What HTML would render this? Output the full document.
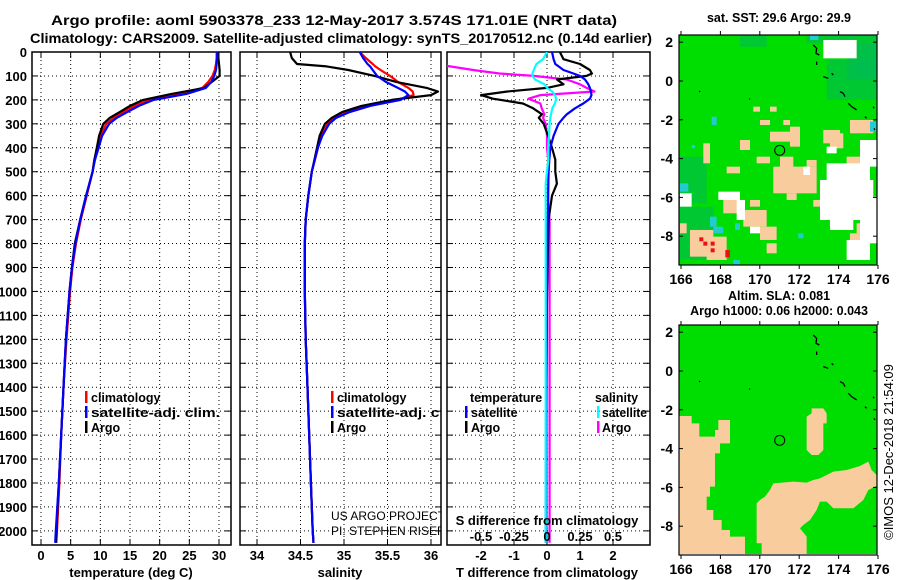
<!DOCTYPE html>
<html><head><meta charset="utf-8"><style>
body{margin:0;background:#fff;}
svg{display:block;font-family:"Liberation Sans",sans-serif;}
.b{font-weight:bold;}
</style></head><body>
<svg id="chart" width="900" height="580" viewBox="0 0 900 580" xmlns="http://www.w3.org/2000/svg">
<g id="titles">
<text x="334" y="25" text-anchor="middle" font-size="14" class="b" textLength="566" lengthAdjust="spacingAndGlyphs">Argo profile: aoml 5903378_233 12-May-2017 3.574S 171.01E (NRT data)</text>
<text x="341" y="43" text-anchor="middle" font-size="14" class="b" textLength="622" lengthAdjust="spacingAndGlyphs">Climatology: CARS2009. Satellite-adjusted climatology: synTS_20170512.nc (0.14d earlier)</text>
</g>
<g id="panels"></g>
<g id="maps"></g>
<text transform="translate(893,452) rotate(-90)" text-anchor="middle" font-size="13">©IMOS 12-Dec-2018 21:54:09</text>
</svg>
<script>
// ---------------- data ----------------
const tDepths = [0,25,50,75,100,125,150,175,200,225,250,275,300,350,400,450,500,600,700,800,900,1000,1200,1400,1600,1800,2000,2050];
const tArgo = [29.8,29.9,30.0,30.1,30.1,28.8,27.5,22.0,17.2,15.0,13.3,11.6,10.5,9.8,9.4,9.0,8.7,7.6,6.6,5.7,5.2,4.8,4.2,3.8,3.4,3.0,2.6,2.5];
const tClim = [29.6,29.6,29.5,29.3,28.9,28.2,27.2,23.5,18.2,15.8,13.9,12.2,11.0,10.0,9.5,9.0,8.7,7.7,6.7,5.9,5.3,4.9,4.3,3.8,3.4,3.1,2.7,2.6];
const tSat = [29.7,29.7,29.6,29.5,29.2,28.7,27.8,24.5,19.0,16.5,14.6,12.8,11.5,10.3,9.7,9.1,8.7,7.6,6.6,5.8,5.2,4.8,4.2,3.8,3.4,3.0,2.5,2.4];
const sDepths = [0,25,50,60,75,100,125,150,165,180,200,225,250,275,300,350,400,500,600,700,800,1000,1200,1400,1600,1800,2000,2050];
const sArgo = [34.38,34.40,34.46,34.80,35.05,35.35,35.60,35.95,36.08,36.0,35.55,35.2,34.98,34.86,34.78,34.72,34.69,34.63,34.59,34.56,34.55,34.55,34.56,34.58,34.60,34.62,34.64,34.65];
const sClim = [35.18,35.25,35.33,35.36,35.42,35.53,35.62,35.74,35.79,35.80,35.6,35.25,35.03,34.88,34.81,34.74,34.70,34.63,34.59,34.56,34.55,34.55,34.56,34.58,34.60,34.62,34.64,34.65];
const sSat = [35.18,35.22,35.27,35.30,35.33,35.38,35.48,35.62,35.70,35.74,35.65,35.30,35.07,34.91,34.83,34.75,34.70,34.63,34.59,34.56,34.55,34.55,34.56,34.58,34.60,34.62,34.64,34.65];
const dDepths = [0,30,50,75,90,100,115,135,150,165,180,195,215,235,260,275,300,350,400,450,500,550,600,650,700,1000,1500,2050];
const dTArgo = [0.39,0.5,1.0,1.3,1.36,1.2,0.3,0.5,0.0,-1.2,-2.0,-1.64,-0.73,-0.42,-0.15,-0.25,-0.1,0.03,0.15,0.25,0.25,0.3,0.15,0.1,0.05,0.0,-0.02,-0.02];
const dTSat = [0.15,0.2,0.25,0.5,0.8,1.0,1.15,1.25,1.3,1.33,1.35,1.3,1.1,0.85,0.6,0.5,0.35,0.2,0.1,0.07,0.05,0.04,0.03,0.03,0.02,0.0,-0.03,-0.04];
const dSSat = [0.0,-0.03,-0.08,-0.1,-0.11,-0.11,-0.09,-0.02,0.0,0.04,0.06,0.07,0.06,0.04,0.03,0.025,0.02,0.015,0.01,0.01,0.0,-0.01,-0.01,-0.01,-0.01,-0.01,-0.01,-0.01];
const dSArgo = [-0.9,-0.9,-0.85,-0.56,-0.36,-0.1,0.15,0.25,0.3,0.36,-0.05,-0.14,-0.05,-0.04,-0.02,-0.03,-0.01,0.0,0.0,0.01,0.01,0.01,0.01,0.01,0.02,0.02,0.02,0.02];
const depthTicks = [0,100,200,300,400,500,600,700,800,900,1000,1100,1200,1300,1400,1500,1600,1700,1800,1900,2000];
const tTicks = [0,5,10,15,20,25,30];
const sTicks = [34,34.5,35,35.5,36];
const sTickLabels = ["34","34.5","35","35.5","36"];
const dTTicks = [-2,-1,0,1,2];
const dSTicks = [-0.5,-0.25,0,0.25,0.5];
const dSTickLabels = ["-0.5","-0.25","0","0.25","0.5"];
const latTicks = [2,0,-2,-4,-6,-8];
const lonTicks = [166,168,170,172,174,176];
const argoLon = 171.01, argoLat = -3.574;

// ---------------- helpers ----------------
const NS = "http://www.w3.org/2000/svg";
function mk(tag, attrs, parent){ const e=document.createElementNS(NS,tag); for(const k in attrs) e.setAttribute(k,attrs[k]); if(parent) parent.appendChild(e); return e; }
const Y0 = 52, Y1 = 545, DMAX = 2059;
function yD(d){ return Y0 + d*(Y1-Y0)/DMAX; }
function linScale(v0,p0,v1,p1){ return v=> p0 + (v-v0)*(p1-p0)/(v1-v0); }

const panels = document.getElementById('panels');
function panel(name, x0, x1, xs, ticks, tickLabels, yLabels){
  const g = mk('g',{},panels);
  
  
  const cid = 'clip-'+name;
  const cp = mk('clipPath',{id:cid},g); mk('rect',{x:x0,y:Y0,width:x1-x0,height:Y1-Y0},cp);
  const grid = mk('g',{stroke:'#000','stroke-width':1,'stroke-dasharray':'1 3'},g);
  
  
  depthTicks.forEach(d=>{ mk('line',{x1:x0,x2:x1,y1:yD(d),y2:yD(d)},grid); });
  ticks.forEach(t=>{ mk('line',{x1:xs(t),x2:xs(t),y1:Y0,y2:Y1},grid); });
  const tk = mk('g',{stroke:'#000','stroke-width':1},g);
  depthTicks.forEach(d=>{ mk('line',{x1:x0,x2:x0+6,y1:yD(d),y2:yD(d)},tk); mk('line',{x1:x1-6,x2:x1,y1:yD(d),y2:yD(d)},tk); });
  ticks.forEach(t=>{ mk('line',{x1:xs(t),x2:xs(t),y1:Y1,y2:Y1-6},tk); mk('line',{x1:xs(t),x2:xs(t),y1:Y0,y2:Y0+6},tk); });
  const fr = mk('rect',{x:x0,y:Y0,width:x1-x0,height:Y1-Y0,fill:'none',stroke:'#000','stroke-width':1.5},g);
  
  
  if(tickLabels){
    const xl = mk('g',{'font-size':13,'font-weight':'bold','text-anchor':'middle'},g);
    
    
    ticks.forEach((t,i)=>{ const e=mk('text',{x:xs(t),y:560},xl); e.textContent=tickLabels[i]; });
  }
  if(yLabels){
    const yl = mk('g',{'font-size':13,'font-weight':'bold','text-anchor':'end'},g);
    
    
    depthTicks.forEach(d=>{ const e=mk('text',{x:27,y:yD(d)+5},yl); e.textContent=String(d); });
  }
  return {g, clip:'url(#'+cid+')'};
}
function series(p, name, depths, vals, xs, color, w){
  const pts = depths.map((d,i)=> xs(vals[i]).toFixed(1)+','+yD(d).toFixed(1)).join(' ');
  const pl = mk('polyline',{points:pts,fill:'none',stroke:color,'stroke-width':w||2.2,'clip-path':p.clip,'stroke-linejoin':'round'},p.g);
  
  
}
function txt(parent,x,y,s,name,attrs){
  const e = mk('text',Object.assign({x:x,y:y,'font-size':13,'font-weight':'bold'},attrs||{}),parent);
  e.textContent = s;
  
  
  return e;
}
function legBar(parent,x,y,color){ mk('rect',{x:x,y:y-11,width:2.5,height:12,fill:color},parent); }
const LG = {'font-size':12.5};

// ---------------- temperature panel ----------------
const xT = linScale(0,41,30,219);
const p1 = panel('temperature-panel',32,231,xT,tTicks,tTicks.map(String),true);
series(p1,'temperature-climatology-line',tDepths,tClim,xT,'#ff0000');
series(p1,'temperature-argo-line',tDepths,tArgo,xT,'#000000');
series(p1,'temperature-satellite-line',tDepths,tSat,xT,'#0000ff');
txt(p1.g,131,577,'temperature (deg C)','x-axis-title-temperature',{'text-anchor':'middle'});
const l1 = mk('g',{},p1.g);  
legBar(l1,85,402,'#ff0000'); txt(l1,91,402,'climatology','legend-entry-climatology',LG);
legBar(l1,85,417,'#0000ff'); txt(l1,91,417,'satellite-adj. clim.','legend-entry-satellite',Object.assign({textLength:129,lengthAdjust:'spacingAndGlyphs'},LG));
legBar(l1,85,432,'#000000'); txt(l1,91,432,'Argo','legend-entry-argo',LG);

// ---------------- salinity panel ----------------
const xS = linScale(34,257,36,431);
const p2 = panel('salinity-panel',240,441,xS,sTicks,sTickLabels,false);
series(p2,'salinity-climatology-line',sDepths,sClim,xS,'#ff0000');
series(p2,'salinity-argo-line',sDepths,sArgo,xS,'#000000');
series(p2,'salinity-satellite-line',sDepths,sSat,xS,'#0000ff');
txt(p2.g,340,577,'salinity','x-axis-title-salinity',{'text-anchor':'middle'});
const l2 = mk('g',{'clip-path':p2.clip},p2.g);  
legBar(l2,331,402,'#ff0000'); txt(l2,337,402,'climatology','legend-entry-climatology-s',LG);
legBar(l2,331,417,'#0000ff'); txt(l2,337,417,'satellite-adj. clim.','legend-entry-satellite-s',Object.assign({textLength:129,lengthAdjust:'spacingAndGlyphs'},LG));
legBar(l2,331,432,'#000000'); txt(l2,337,432,'Argo','legend-entry-argo-s',LG);
txt(l2,331,520,'US ARGO PROJECT','credit-project',{'font-weight':'normal','font-size':12});
txt(l2,331,535,'PI: STEPHEN RISER','credit-pi',{'font-weight':'normal','font-size':12});

// ---------------- difference panel ----------------
const xDT = linScale(0,547,2,613);
const xDS = linScale(0,547,0.5,613);
const p3 = panel('difference-panel',447,650,xDT,dTTicks,dTTicks.map(String),false);
series(p3,'salinity-diff-argo-line',dDepths,dSArgo,xDS,'#ff00ff');
series(p3,'temperature-diff-argo-line',dDepths,dTArgo,xDT,'#000000');
series(p3,'temperature-diff-satellite-line',dDepths,dTSat,xDT,'#0000ff');
series(p3,'salinity-diff-satellite-line',dDepths,dSSat,xDS,'#00ffff');
txt(p3.g,547,577,'T difference from climatology','x-axis-title-t-diff',{'text-anchor':'middle'});
txt(p3.g,547,525,'S difference from climatology','s-diff-axis-title',{'text-anchor':'middle'});
const sl = mk('g',{'font-size':13,'font-weight':'bold','text-anchor':'middle'},p3.g);
 
dSTicks.forEach((t,i)=>{ const e=mk('text',{x:xDS(t),y:541},sl); e.textContent=dSTickLabels[i]; });
const l3 = mk('g',{},p3.g);  
txt(l3,470,402,'temperature','legend-title-temperature',LG);
txt(l3,595,402,'salinity','legend-title-salinity',LG);
legBar(l3,465,417,'#0000ff'); txt(l3,471,417,'satellite','legend-entry-t-satellite',LG);
legBar(l3,465,432,'#000000'); txt(l3,471,432,'Argo','legend-entry-t-argo',LG);
legBar(l3,597,417,'#00ffff'); txt(l3,602,417,'satellite','legend-entry-s-satellite',Object.assign({textLength:45,lengthAdjust:'spacingAndGlyphs'},LG));
legBar(l3,597,432,'#ff00ff'); txt(l3,602,432,'Argo','legend-entry-s-argo',LG);

// ---------------- maps ----------------
const maps = document.getElementById('maps');
const GR='#00dd00', PE='#f8cc9c', DG='#00bb55';
function mapFrame(name, x0,y0,x1,y1, lat0y, latStep, titleLines, titleYs, content){
  const g = mk('g',{},maps);
  
  
  const cid='clip-'+name; const cp=mk('clipPath',{id:cid},g); mk('rect',{x:x0,y:y0,width:x1-x0,height:y1-y0},cp);
  const inner = mk('g',{'clip-path':'url(#'+cid+')'},g);
  mk('rect',{x:x0,y:y0,width:x1-x0,height:y1-y0,fill:GR},inner);
  content(inner);
  const lonX = linScale(166,681,176,878);
  const latY = v=> lat0y - v*latStep;
  const c = mk('circle',{cx:lonX(argoLon),cy:latY(argoLat),r:5,fill:'none',stroke:'#000','stroke-width':1},inner);
  
  
  mk('rect',{x:x0,y:y0,width:x1-x0,height:y1-y0,fill:'none',stroke:'#000','stroke-width':1.2},g);
  const tg = mk('g',{'font-size':14,'font-weight':'bold'},g);
   
  latTicks.forEach(v=>{ const e=mk('text',{x:673,y:latY(v)+5,'text-anchor':'end'},tg); e.textContent=String(v);
    mk('line',{x1:x0,x2:x0+4,y1:latY(v),y2:latY(v),stroke:'#000'},g); mk('line',{x1:x1-4,x2:x1,y1:latY(v),y2:latY(v),stroke:'#000'},g); });
  lonTicks.forEach(v=>{ const e=mk('text',{x:lonX(v),y:y1+19,'text-anchor':'middle'},tg); e.textContent=String(v);
    mk('line',{x1:lonX(v),x2:lonX(v),y1:y1,y2:y1+4,stroke:'#000'},g); mk('line',{x1:lonX(v),x2:lonX(v),y1:y0-4,y2:y0,stroke:'#000'},g); });
  titleLines.forEach((t,i)=>{ txt(g,x0+100,titleYs[i],t,name+'-title-'+i,{'text-anchor':'middle','font-size':12.5}); });
}
function islands(g, ox, oy){
  const isl = mk('g',{transform:'translate('+ox+','+oy+') scale(0.3333)',fill:'none',stroke:'#000','stroke-width':4},g);
  mk('path',{d:'M460 135 L470 145 L468 160 L478 165 M470 185 L470 195 M490 230 L505 235 M515 220 L520 225 M540 275 L550 280 L555 290 M565 310 L575 320 L590 330 M615 350 L620 355 M640 320 L642 325 M118 273 L120 276 M268 296 L270 298 M642 385 L645 390'},isl);
}
mapFrame('sst-map',679,35,877,265,81,19.4,['sat. SST: 29.6 Argo: 29.9'],[22],function(g){
  const s = mk('g',{transform:'translate(660,0) scale(0.3333)'},g);
  const dg=[[560,100,92,140],[440,100,120,30],[60,470,80,140],[590,130,62,100],[500,180,150,120],[240,100,80,40],[60,620,100,160]];
  dg.forEach(r=>mk('rect',{x:r[0],y:r[1],width:r[2],height:r[3],fill:DG,opacity:0.6},s));
  const pe=[[330,395,80,30],[390,380,30,60],[340,500,130,80],[360,470,40,40],[490,390,50,40],[510,400,40,45],[570,360,70,40],[560,470,40,30],[190,600,50,40],[250,630,70,50],[130,430,20,60],[90,690,70,80],[140,710,60,70],[300,680,50,40],[320,730,30,30],[570,700,35,40],[590,670,25,30],[240,420,30,30],[290,470,40,20],[270,600,30,20],[200,500,40,20],[380,580,30,20],[440,480,30,20],[460,600,20,20],[280,320,20,15],[330,320,20,15],[300,360,30,15],[370,360,20,15],[180,580,30,10],[60,670,20,30]];
  pe.forEach(r=>mk('rect',{x:r[0],y:r[1],width:r[2],height:r[3],fill:PE},s));
  const wh=[[500,490,130,60],[480,540,160,120],[510,650,70,40],[600,420,52,80],[600,590,52,140],[560,720,70,60],[490,120,100,55],[60,580,35,40],[175,575,65,25],[230,600,25,60],[270,680,30,20],[430,500,20,25],[500,440,30,20]];
  wh.forEach(r=>mk('rect',{x:r[0],y:r[1],width:r[2],height:r[3],fill:'#ffffff'},s));
  const cy=[[155,350,15,25],[95,435,10,10],[60,550,25,25],[150,650,20,30],[160,680,30,20],[225,670,15,20],[220,780,20,15],[415,700,15,15],[630,365,20,30],[450,105,25,15]];
  cy.forEach(r=>mk('rect',{x:r[0],y:r[1],width:r[2],height:r[3],fill:'#22cccc'},s));
  const rd=[[118,712,12,12],[130,725,12,12],[152,725,12,12],[152,745,12,12],[196,750,14,22]];
  rd.forEach(r=>mk('rect',{x:r[0],y:r[1],width:r[2],height:r[3],fill:'#ee1111'},s));
  islands(g,660,0);
});
mapFrame('sla-map',679,325,877,555,371,19.4,['Altim. SLA: 0.081','Argo h1000: 0.06 h2000: 0.043'],[300,315],function(g){
  const s = mk('g',{transform:'translate(660,290) scale(0.3333)',fill:PE},g);
  mk('path',{d:'M58 378 L95 378 L95 400 L118 400 L118 440 L165 440 L165 420 L175 420 L175 390 L210 390 L210 460 L180 460 L180 490 L165 490 L165 590 L150 590 L150 620 L140 620 L140 660 L160 660 L160 690 L185 690 L185 720 L210 720 L210 740 L255 740 L255 800 L58 800 Z'},s);
  mk('path',{d:'M305 800 L305 760 L290 760 L290 640 L300 630 L315 620 L330 600 L340 580 L400 575 L440 578 L460 570 L480 565 L500 555 L520 545 L560 540 L600 528 L625 515 L635 540 L655 560 L655 585 L625 600 L610 630 L580 655 L520 655 L500 635 L480 635 L470 660 L450 690 L430 705 L420 715 L440 740 L440 800 Z'},s);
  mk('path',{d:'M455 355 L490 355 L500 370 L500 400 L490 400 L490 480 L475 495 L455 495 L440 480 L440 380 L455 370 Z'},s);
  mk('rect',{x:58,y:792,width:600,height:10,fill:'#ffffff'},s);
  islands(g,660,290);
});
</script>
</body></html>
